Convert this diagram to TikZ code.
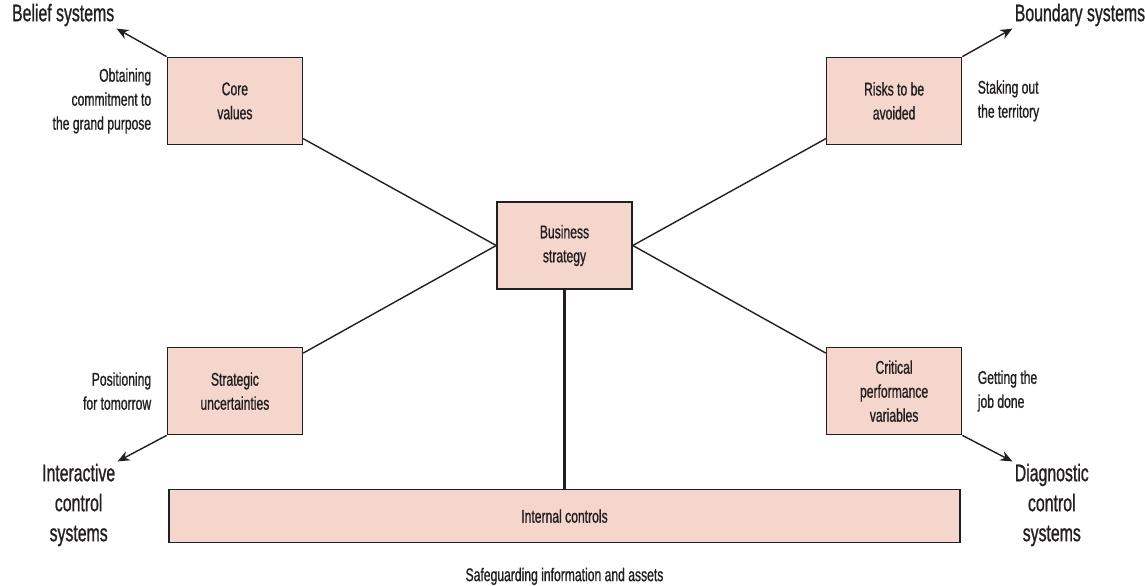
\documentclass[tikz,border=0pt]{standalone}
\usepackage{fontspec}
\setmainfont{Liberation Sans}[FakeStretch=0.66,FakeBold=0.9]
\usepackage{xcolor}
\usepackage{tikz}
\usetikzlibrary{arrows.meta,positioning}
\definecolor{leverfill}{RGB}{245,214,205}
\definecolor{ink}{RGB}{35,31,32}

\begin{document}
\begin{tikzpicture}[
  x=0.5pt, y=-0.5pt,
  lever/.style={draw=ink,line width=0.8pt,fill=leverfill,minimum width=67.5pt,minimum height=43.5pt,align=center,text=ink,font=\fontsize{9.2}{12}\selectfont},
  aim/.style={text=ink,align=right,inner sep=0pt,font=\fontsize{9.2}{12}\selectfont},
  system/.style={text=ink,align=center,inner sep=1pt,font=\fontsize{12}{15}\selectfont},
  link/.style={draw=ink,line width=0.7pt},
  spine/.style={draw=ink,line width=1.5pt},
  flow/.style={-{Stealth[length=6pt,width=5pt]},draw=ink,line width=0.7pt}
]
\useasboundingbox (0,0) rectangle (1145,585);
\node[lever] (biz) at (564.5,245.5) {Business\\strategy};
\node[lever,above left=28pt and 96.5pt of biz] (core) {Core\\values};
\node[lever,above right=28pt and 96.5pt of biz] (risks) {Risks to be\\avoided};
\node[lever,below left=28.5pt and 96.5pt of biz] (strat) {Strategic\\uncertainties};
\node[lever,below right=28.5pt and 96.5pt of biz] (crit) {Critical\\performance\\variables};
\node[lever,minimum width=395.5pt,minimum height=26.5pt,below=99.5pt of biz] (ic) {Internal controls};
% what each lever is for
\node[aim,left=7.5pt of core] (commit) {Obtaining\\commitment to\\the grand purpose};
\node[aim,align=left,right=7.5pt of risks] (territory) {Staking out\\the territory};
\node[aim,left=7.5pt of strat] (tomorrow) {Positioning\\for tomorrow};
\node[aim,align=left,right=7.5pt of crit] (jobdone) {Getting the\\job done};
\node[aim,align=center,below=12pt of ic] (safeguard) {Safeguarding information and assets};
% the four control systems
\node[system,above left=14pt and 25pt of core] (belief) {Belief systems};
\node[system,above right=14pt and 25pt of risks] (boundary) {Boundary systems};
\node[system,below left=13pt and 24.5pt of strat] (interactive) {Interactive\\control\\systems};
\node[system,below right=13pt and 25pt of crit] (diagnostic) {Diagnostic\\control\\systems};
\draw[link] (biz.west) -- (core);
\draw[link] (biz.west) -- (strat);
\draw[link] (biz.east) -- (risks);
\draw[link] (biz.east) -- (crit);
\draw[spine] (biz) -- (ic);
\draw[flow] (core.north west) -- (belief.south east);
\draw[flow] (risks.north east) -- (boundary.south west);
\draw[flow] (strat.south west) -- (interactive.north east);
\draw[flow] (crit.south east) -- (diagnostic.north west);
\end{tikzpicture}
\end{document}
